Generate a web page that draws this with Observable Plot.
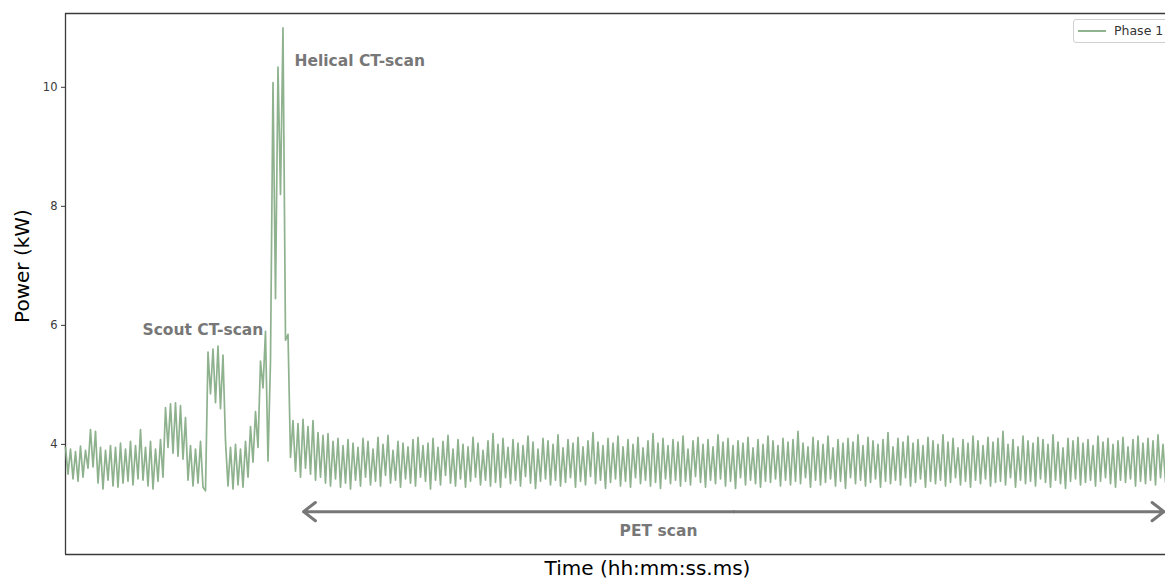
<!DOCTYPE html>
<html>
<head>
<meta charset="utf-8">
<script src="https://cdn.jsdelivr.net/npm/d3@7"></script>
<script src="https://cdn.jsdelivr.net/npm/@observablehq/plot@0.6"></script>
<style>
  html, body { margin: 0; padding: 0; background: #fff; overflow: hidden; }
  #wrap { position: relative; width: 1165px; height: 579px; overflow: hidden; }
  #legend {
    position: absolute; left: 1073px; top: 19px; width: 120px; height: 22px;
    border: 1px solid #d0d0d0; border-radius: 3px; background: #fff;
    font: 12.5px "DejaVu Sans", sans-serif; color: #333;
  }
  #legend .sw { position: absolute; left: 4px; top: 10px; width: 28px; height: 2px; background: #8fb48f; }
  #legend .lb { position: absolute; left: 40px; top: 3px; white-space: nowrap; }
</style>
</head>
<body>
<div id="wrap">
  <div id="chart"></div>
  <div id="legend"><span class="sw"></span><span class="lb">Phase 1</span></div>
</div>
<script>
// Power draw of phase 1 during a PET/CT acquisition, one sample per step.

// Idle baseline before the scout scan
const preScan = [
  3.95,3.50,3.92,3.42,3.88,3.38,3.97,3.45,3.90,3.60,
  4.25,3.62,4.22,3.35,3.95,3.25,3.90,3.40,3.98,3.30,
  3.95,3.28,4.02,3.35,3.92,3.38,4.05,3.32,3.98,3.42,
  4.25,3.40,3.95,3.30,4.05,3.25,3.92,3.38,4.08,3.45,
  4.62,3.95,4.68,3.85,4.70,3.80,4.65,3.75,4.45,
  3.40,3.98,3.30,3.92,3.35,4.05,3.28,3.22
];

// Scout CT-scan
const scoutScan = [5.55,4.85,5.60,4.70,5.65,4.60,5.50];

// Pause, tube ramp-up and helical CT-scan
const helicalScan = [
  4.05,3.30,3.95,3.25,4.00,3.32,3.92,3.28,4.05,3.45,
  4.30,3.70,4.55,3.95,5.40,4.95,5.90,3.72,5.40,
  10.08,6.45,10.34,8.20,11.00,5.75,5.85,3.78
];

// PET scan
const petScan = [
  4.40,3.55,4.35,3.45,4.42,3.60,4.30,3.50,4.40,3.40,
  4.20,3.45,4.15,3.35,4.18,3.30,4.05,3.42,4.10,3.28,
  3.98,3.35,4.08,3.25,4.02,3.40,3.95,3.30,4.10,3.45,
  4.05,3.32,3.92,3.38,4.12,3.30,4.00,3.48,4.15,3.35,
  3.90,3.40,4.05,3.28,4.02,3.42,3.96,3.35,4.08,3.30,
  4.12,3.45,3.98,3.38,4.02,3.25,4.10,3.40,3.95,3.32,
  4.05,3.48,4.15,3.35,3.92,3.30,4.08,3.42,4.00,3.28,
  3.96,3.38,4.12,3.45,4.02,3.32,3.90,3.40,4.06,3.30,
  4.18,3.36,4.00,3.28,4.10,3.44,3.95,3.34,4.08,3.40,
  4.02,3.30,3.98,3.46,4.14,3.35,4.04,3.26,3.92,3.38,
  4.10,3.42,4.06,3.32,4.00,3.40,4.16,3.30,3.94,3.36,
  4.08,3.44,4.02,3.28,4.12,3.38,3.96,3.32,4.06,3.46,
  4.20,3.34,4.04,3.40,3.98,3.26,4.10,3.36,4.02,3.42,
  4.14,3.30,3.96,3.38,4.08,3.28,4.00,3.44,4.12,3.34,
  3.94,3.40,4.06,3.30,4.18,3.36,4.02,3.26,4.10,3.42,
  3.98,3.34,4.08,3.40,4.04,3.30,4.14,3.38,3.92,3.32,
  4.06,3.46,4.12,3.36,4.00,3.28,4.08,3.40,3.96,3.34,
  4.16,3.42,4.04,3.30,4.10,3.38,3.98,3.26,4.06,3.44,
  4.02,3.32,4.12,3.40,3.94,3.34,4.08,3.28,4.00,3.38,
  4.14,3.36,4.06,3.42,3.98,3.30,4.10,3.40,4.04,3.32,
  4.08,3.38,4.22,3.34,4.02,3.44,3.96,3.28,4.12,3.40,
  4.06,3.32,4.00,3.36,4.14,3.42,3.94,3.30,4.08,3.38,
  4.02,3.26,4.10,3.44,4.04,3.34,4.16,3.40,3.98,3.30,
  4.12,3.36,4.06,3.42,4.00,3.28,4.08,3.38,4.20,3.34,
  3.96,3.40,4.10,3.32,4.04,3.44,4.14,3.30,4.02,3.36,
  4.08,3.42,3.98,3.28,4.12,3.38,4.06,3.34,4.00,3.40,
  4.16,3.30,4.04,3.36,4.10,3.44,3.94,3.32,4.08,3.38,
  4.02,3.28,4.14,3.40,4.06,3.34,3.98,3.42,4.12,3.30,
  4.04,3.36,4.10,3.38,4.22,3.32,4.00,3.44,4.08,3.28,
  3.96,3.40,4.14,3.34,4.06,3.38,4.02,3.30,4.12,3.42,
  4.08,3.36,4.00,3.28,4.16,3.40,4.04,3.34,3.94,3.26,
  4.10,3.38,4.06,3.42,4.12,3.32,4.02,3.36,4.08,3.40,
  3.98,3.30,4.14,3.38,4.04,3.44,4.10,3.34,4.00,3.28,
  4.06,3.40,4.12,3.36,3.96,3.42,4.08,3.30,4.14,3.38,
  4.02,3.34,4.10,3.40,4.06,3.32,4.16,3.44,4.00,3.36
];

const yTicks = [4, 6, 8, 10];
const yDomain = [2.15, 11.24];

// CT labels start at their position; the PET label is centred under its arrow
const ctLabels = [
  {text: "Scout CT-scan", i: 30.8, kw: 5.92},
  {text: "Helical CT-scan", i: 91.6, kw: 10.44}
];
const petLabel = [{text: "PET scan", i: 237.2, kw: 2.54}];
// Extent of the PET acquisition, drawn as a double arrow
const petSpan = {start: 95.2, end: 439.4, kw: 2.87};

const power = [...preScan, ...scoutScan, ...helicalScan, ...petScan];
const series = power.map((kw, i) => ({i, kw}));
const xDomain = [0, power.length - 1];
const petMid = (petSpan.start + petSpan.end) / 2;

const grey = "#777777";
const spine = "#3a3a3a";

const chart = Plot.plot({
  width: 1165,
  height: 579,
  marginLeft: 65,
  marginRight: 0,
  marginTop: 13,
  marginBottom: 25,
  style: {fontFamily: "DejaVu Sans, sans-serif", background: "white", overflow: "visible"},
  x: {domain: xDomain, axis: null},
  y: {domain: yDomain, axis: null},
  marks: [
    Plot.axisY({ticks: yTicks, tickSize: 4, tickPadding: 4, fontSize: 11.5, label: null, color: spine}),
    Plot.ruleX([xDomain[0]], {stroke: spine, strokeWidth: 1.3}),
    Plot.ruleY(yDomain, {stroke: spine, strokeWidth: 1.3}),
    Plot.line(series, {x: "i", y: "kw", stroke: "#84aa84", strokeWidth: 1.7, strokeOpacity: 0.92}),
    Plot.arrow([petSpan], {
      x1: () => petMid, x2: "start", y1: "kw", y2: "kw",
      stroke: grey, strokeWidth: 3, headLength: 7.5, headAngle: 75
    }),
    Plot.arrow([petSpan], {
      x1: () => petMid, x2: "end", y1: "kw", y2: "kw",
      stroke: grey, strokeWidth: 3, headLength: 7.5, headAngle: 75
    }),
    Plot.text(ctLabels, {
      x: "i", y: "kw", text: "text", textAnchor: "start",
      fill: grey, fontWeight: "bold", fontSize: 15.5, lineAnchor: "middle"
    }),
    Plot.text(petLabel, {
      x: "i", y: "kw", text: "text", textAnchor: "middle",
      fill: grey, fontWeight: "bold", fontSize: 15.5, lineAnchor: "middle"
    }),
    Plot.text(["Power (kW)"], {
      frameAnchor: "left", rotate: -90, dx: -43, dy: -18,
      fontSize: 20, fill: "black", lineAnchor: "middle", textAnchor: "middle"
    }),
    Plot.text(["Time (hh:mm:ss.ms)"], {
      frameAnchor: "bottom", dx: 32, dy: 14,
      fontSize: 20, fill: "black", lineAnchor: "middle", textAnchor: "middle"
    })
  ]
});

document.getElementById("chart").appendChild(chart);
</script>
</body>
</html>
